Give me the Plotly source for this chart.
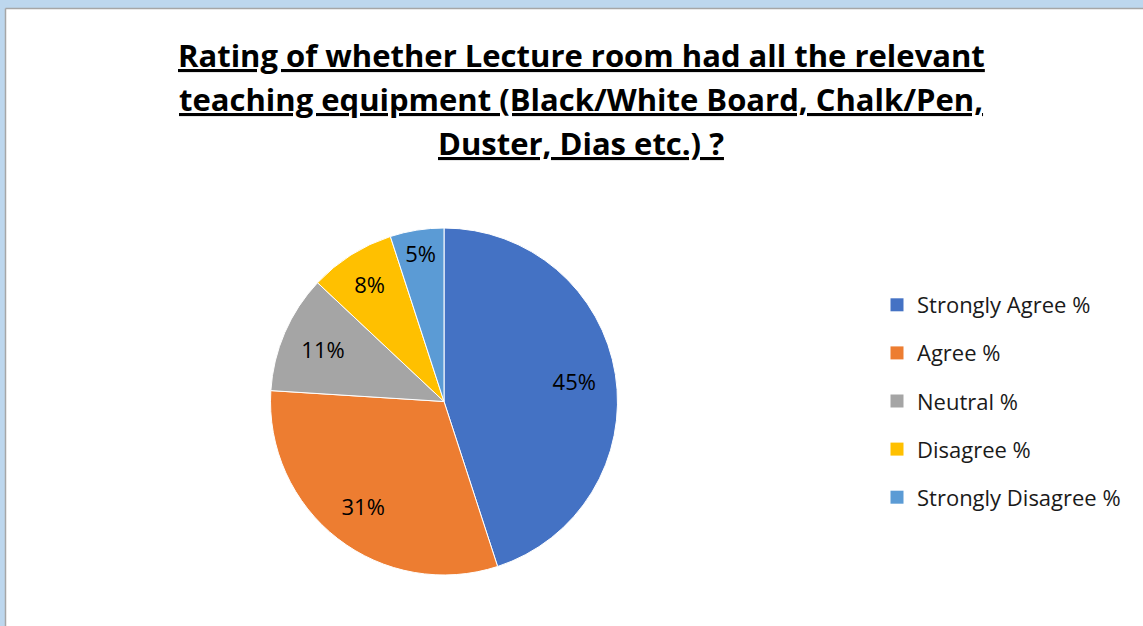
import plotly.graph_objects as go

W, H = 1143, 626

categories = ['Strongly Agree %', 'Agree %', 'Neutral %', 'Disagree %', 'Strongly Disagree %']
values = [45, 31, 11, 8, 5]
colors = ['#4472C4', '#ED7D31', '#A5A5A5', '#FFC000', '#5B9BD5']
title_lines = ['Rating of whether Lecture room had all the relevant',
               'teaching equipment (Black/White Board, Chalk/Pen,',
               'Duster, Dias etc.) ?']

FONT = 'Open Sans'


def px_x(x):
	return x / W


def px_y(y):
	return 1 - y / H


pie_domain = dict(x=[px_x(270), px_x(618)], y=[px_y(575), px_y(228)])

fig = go.Figure()

# the coloured pie
fig.add_trace(go.Pie(
	labels=categories, values=values,
	marker=dict(colors=colors, line=dict(color='white', width=1)),
	sort=False, direction='clockwise', rotation=0,
	textinfo='none', domain=pie_domain,
	showlegend=False, hoverinfo='label+value'
))

# transparent ring on top, only carries the % labels (pushes them outward like Excel)
fig.add_trace(go.Pie(
	labels=categories, values=values, hole=0.52,
	marker=dict(colors=['rgba(0,0,0,0)'] * len(values), line=dict(width=0)),
	sort=False, direction='clockwise', rotation=0,
	texttemplate='%{value}%', textposition='inside', insidetextorientation='horizontal',
	textfont=dict(family=FONT, size=22, color='black'),
	domain=pie_domain, showlegend=False, hoverinfo='skip'
))

# legend entries (separate groups so the spacing can match)
for i, (c, col) in enumerate(zip(categories, colors)):
	fig.add_trace(go.Scatter(
		x=[None], y=[None], mode='markers', name=c,
		marker=dict(symbol='square', size=13, color=col),
		legendgroup=str(i), showlegend=True
	))

# title, one annotation per line
for i, t in enumerate(title_lines):
	fig.add_annotation(
		text='<b><u>' + t + '</u></b>', x=px_x(581), y=px_y(55 + 44 * i),
		xref='paper', yref='paper', showarrow=False, xanchor='center', yanchor='middle',
		font=dict(family=FONT, size=31, color='black')
	)

# window frame
fig.add_shape(type='rect', xref='paper', yref='paper', x0=px_x(6), x1=1.01, y0=-0.01, y1=px_y(9),
              fillcolor='white', line=dict(width=0), layer='below')
fig.add_shape(type='line', xref='paper', yref='paper', x0=px_x(5.5), x1=1.01, y0=px_y(8.5), y1=px_y(8.5),
              line=dict(color='#A6A6A6', width=1.5), layer='below')
fig.add_shape(type='line', xref='paper', yref='paper', x0=px_x(5.5), x1=px_x(5.5), y0=-0.01, y1=px_y(8.5),
              line=dict(color='#A6A6A6', width=1.5), layer='below')

fig.update_layout(
	width=W, height=H, autosize=False,
	margin=dict(l=0, r=0, t=0, b=0),
	paper_bgcolor='#BDD7EE', plot_bgcolor='rgba(0,0,0,0)',
	xaxis=dict(visible=False, domain=[0.95, 1]), yaxis=dict(visible=False, domain=[0.95, 1]),
	legend=dict(x=px_x(877), y=px_y(284), xanchor='left', yanchor='top',
	            font=dict(family=FONT, size=22, color='#1a1a1a'),
	            tracegroupgap=16.5, bgcolor='rgba(0,0,0,0)', itemclick=False)
)

fig.write_html("out.html", config={'displayModeBar': False},
               post_script="document.body.style.margin='0';")
